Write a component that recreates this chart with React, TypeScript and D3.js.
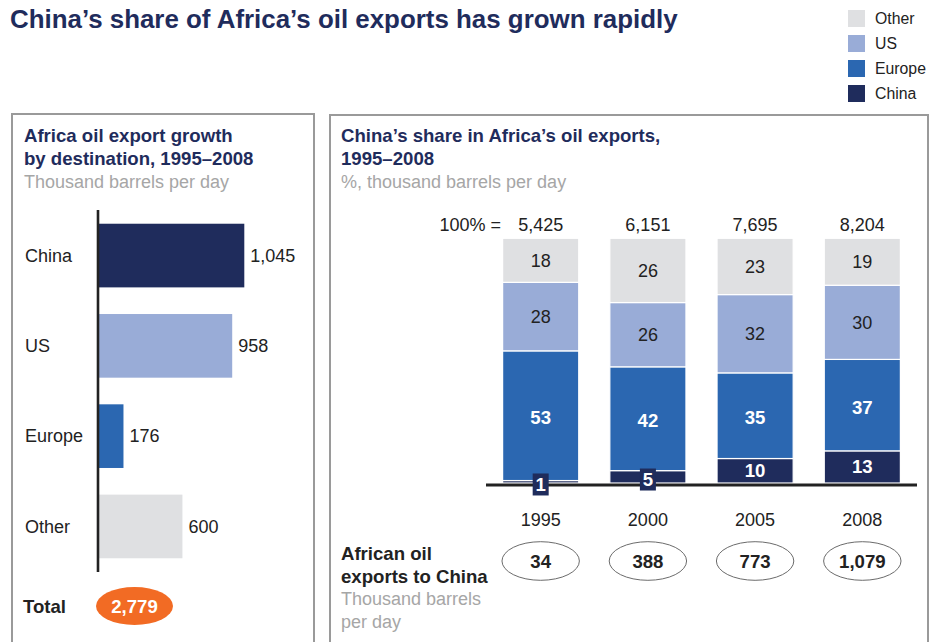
import React from "react";
import * as d3 from "d3";

// ---------- data ----------
const title = "China’s share of Africa’s oil exports has grown rapidly";

const legendKeys = ["Other", "US", "Europe", "China"];

const growthCategories = ["China", "US", "Europe", "Other"];
const growthValues = [1045, 958, 176, 600];
const growthTotal = 2779;

const years = ["1995", "2000", "2005", "2008"];
const yearTotals = [5425, 6151, 7695, 8204];
const chinaShare = [1, 5, 10, 13];
const europeShare = [53, 42, 35, 37];
const usShare = [28, 26, 32, 30];
const otherShare = [18, 26, 23, 19];
const exportsToChina = [34, 388, 773, 1079];

const stackKeys = ["China", "Europe", "US", "Other"];

// ---------- styles ----------
const FONT = "'Liberation Sans', Arial, Helvetica, sans-serif";
const NAVY = "#1f2c5c";
const colors: Record<string, string> = {
  China: "#1f2c5c",
  Europe: "#2b67b1",
  US: "#99acd7",
  Other: "#dfe0e2",
};
const TEXT = "#222222";
const GRAY = "#a6a6a6";
const ORANGE = "#f26b24";

const fmt = d3.format(",");

export default function App() {
  // left chart scales
  const yBand = d3
    .scaleBand<string>()
    .domain(growthCategories)
    .range([210, 572])
    .paddingInner(0.295)
    .paddingOuter(0.152);
  const xLin = d3.scaleLinear().domain([0, 1045]).range([99, 244.3]);

  // right chart
  const rows = years.map((y, i) => ({
    year: y,
    China: chinaShare[i],
    Europe: europeShare[i],
    US: usShare[i],
    Other: otherShare[i],
  }));
  const stacked = d3
    .stack<any>()
    .keys(stackKeys)
    .offset(d3.stackOffsetExpand)(rows);
  const xBand = d3
    .scaleBand<string>()
    .domain(years)
    .range([486, 917])
    .paddingInner(0.29)
    .paddingOuter(0.155);
  const yLin = d3.scaleLinear().domain([0, 1]).range([483, 238.3]);

  const legendY = d3.scaleBand<string>().domain(legendKeys).range([6, 106]);

  return (
    <svg
      width={929}
      height={642}
      style={{ position: "absolute", left: 0, top: 0, display: "block", background: "#fff" }}
      fontFamily={FONT}
    >
      <rect x={0} y={0} width={929} height={642} fill="#fff" />
      {/* main title */}
      <text x={10} y={28} fontSize={25.9} fontWeight="bold" fill={NAVY}>
        {title}
      </text>

      {/* legend */}
      {legendKeys.map((k) => (
        <g key={k}>
          <rect x={848} y={(legendY(k) as number) + 4} width={17} height={17} fill={colors[k]} />
          <text
            x={875}
            y={(legendY(k) as number) + 12.5}
            dy="0.35em"
            fontSize={15.8}
            fill={TEXT}
          >
            {k}
          </text>
        </g>
      ))}

      {/* panels */}
      <rect x={12} y={114} width={302} height={560} fill="none" stroke="#9a9a9a" strokeWidth={2} />
      <rect x={330} y={115} width={598} height={560} fill="none" stroke="#9a9a9a" strokeWidth={2} />

      {/* left panel header */}
      <text x={24} y={142} fontSize={18.6} fontWeight="bold" fill={NAVY}>
        Africa oil export growth
      </text>
      <text x={24} y={165} fontSize={18.6} fontWeight="bold" fill={NAVY}>
        by destination, 1995–2008
      </text>
      <text x={24} y={188} fontSize={18} fill={GRAY}>
        Thousand barrels per day
      </text>

      {/* left bars */}
      {growthCategories.map((c, i) => {
        const y = yBand(c) as number;
        const h = yBand.bandwidth();
        return (
          <g key={c}>
            <rect x={xLin(0)} y={y} width={xLin(growthValues[i]) - xLin(0)} height={h} fill={colors[c]} />
            <text x={25} y={y + h / 2} dy="0.35em" fontSize={18} fill={TEXT}>
              {c}
            </text>
            <text x={xLin(growthValues[i]) + 6} y={y + h / 2} dy="0.35em" fontSize={18} fill={TEXT}>
              {fmt(growthValues[i])}
            </text>
          </g>
        );
      })}
      <line x1={98} x2={98} y1={210} y2={572} stroke={TEXT} strokeWidth={2.6} />

      {/* total */}
      <text x={23} y={606} dy="0.35em" fontSize={18.6} fontWeight="bold" fill={TEXT}>
        Total
      </text>
      <ellipse cx={134.5} cy={606} rx={38.5} ry={19} fill={ORANGE} />
      <text x={134.5} y={606} dy="0.35em" textAnchor="middle" fontSize={18.6} fontWeight="bold" fill="#fff">
        {fmt(growthTotal)}
      </text>

      {/* right panel header */}
      <text x={341} y={142} fontSize={18.6} fontWeight="bold" fill={NAVY}>
        China’s share in Africa’s oil exports,
      </text>
      <text x={341} y={165} fontSize={18.6} fontWeight="bold" fill={NAVY}>
        1995–2008
      </text>
      <text x={341} y={188} fontSize={18} fill={GRAY}>
        %, thousand barrels per day
      </text>

      {/* totals row */}
      <text
        x={(xBand(years[0]) as number) - 1.5}
        y={231}
        textAnchor="end"
        fontSize={18}
        fill={TEXT}
      >
        100% =
      </text>
      {years.map((y, i) => (
        <text
          key={y}
          x={(xBand(y) as number) + xBand.bandwidth() / 2}
          y={231}
          textAnchor="middle"
          fontSize={18}
          fill={TEXT}
        >
          {fmt(yearTotals[i])}
        </text>
      ))}

      {/* stacked bars */}
      {stacked.map((layer) => (
        <g key={layer.key}>
          {layer.map((d, i) => {
            const x = xBand(years[i]) as number;
            const w = xBand.bandwidth();
            const y0 = yLin(d[0]);
            const y1 = yLin(d[1]);
            return (
              <rect
                key={i}
                x={x}
                y={y1}
                width={w}
                height={y0 - y1}
                fill={colors[layer.key]}
                stroke="#fff"
                strokeWidth={1.2}
              />
            );
          })}
        </g>
      ))}
      <line x1={486} x2={917} y1={485} y2={485} stroke={TEXT} strokeWidth={2.8} />

      {/* segment labels */}
      {stacked.map((layer) =>
        layer.map((d, i) => {
          const cx = (xBand(years[i]) as number) + xBand.bandwidth() / 2;
          const y0 = yLin(d[0]);
          const y1 = yLin(d[1]);
          const h = y0 - y1;
          const val = (rows[i] as any)[layer.key] as number;
          const dark = layer.key === "China" || layer.key === "Europe";
          const small = h < 18;
          const cy = small
            ? (y0 + y1) / 2 + 2.7
            : layer.key === "Europe"
            ? (y0 + y1) / 2 + 2
            : (y0 + y1) / 2;
          const label = String(val);
          return (
            <g key={layer.key + i}>
              {small && (
                <rect
                  x={cx - (label.length * 10.5 + 5.5) / 2}
                  y={cy - 11}
                  width={label.length * 10.5 + 5.5}
                  height={22}
                  fill={colors.China}
                />
              )}
              <text
                x={cx}
                y={cy}
                dy="0.35em"
                textAnchor="middle"
                fontSize={dark ? 18.6 : 18}
                fontWeight={dark ? "bold" : "normal"}
                fill={dark ? "#fff" : TEXT}
              >
                {label}
              </text>
            </g>
          );
        })
      )}

      {/* year labels */}
      {years.map((y) => (
        <text
          key={y}
          x={(xBand(y) as number) + xBand.bandwidth() / 2}
          y={519.5}
          dy="0.35em"
          textAnchor="middle"
          fontSize={18}
          fill={TEXT}
        >
          {y}
        </text>
      ))}

      {/* exports to China */}
      <text x={341} y={560} fontSize={18.6} fontWeight="bold" fill={TEXT}>
        African oil
      </text>
      <text x={341} y={583} fontSize={18.6} fontWeight="bold" fill={TEXT}>
        exports to China
      </text>
      <text x={341} y={605} fontSize={18} fill={GRAY}>
        Thousand barrels
      </text>
      <text x={341} y={628} fontSize={18} fill={GRAY}>
        per day
      </text>
      {years.map((y, i) => {
        const cx = (xBand(y) as number) + xBand.bandwidth() / 2;
        return (
          <g key={y}>
            <ellipse cx={cx} cy={561} rx={38.7} ry={19.3} fill="#fff" stroke="#6b6b6b" strokeWidth={1} />
            <text x={cx} y={561} dy="0.35em" textAnchor="middle" fontSize={18.6} fontWeight="bold" fill={TEXT}>
              {fmt(exportsToChina[i])}
            </text>
          </g>
        );
      })}
    </svg>
  );
}
